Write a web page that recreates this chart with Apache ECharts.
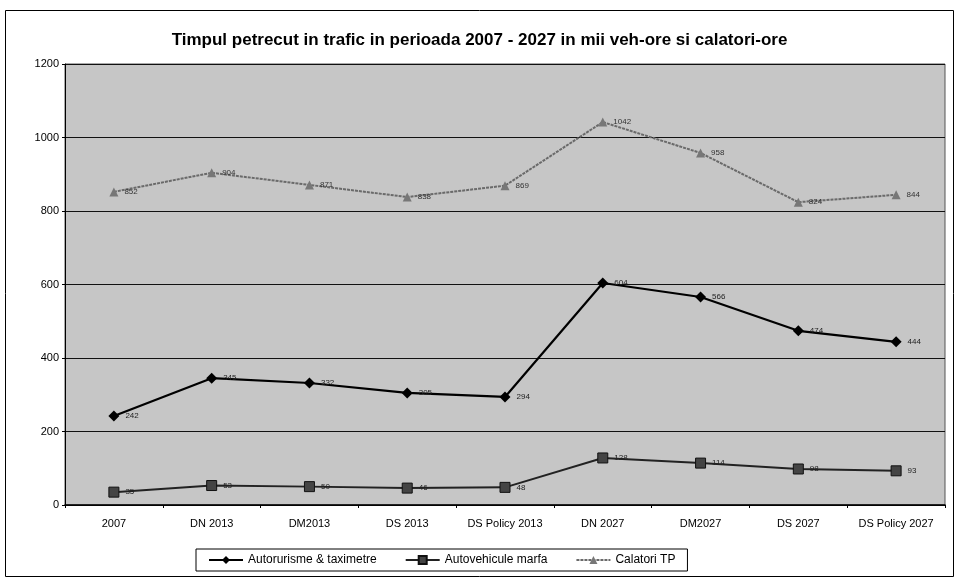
<!DOCTYPE html>
<html>
<head>
<meta charset="UTF-8">
<title>Timpul petrecut in trafic</title>
<script src="https://cdn.jsdelivr.net/npm/echarts@6/dist/echarts.min.js"></script>
<style type="text/css">
	* { margin: 0px; padding: 0px; }
	body { background: #fff; }
	#container { width: 959px; height: 577px; }
</style>
</head>
<body>
<div id="container"></div>
<script>
	// categorii (axa X)
	var categories = ['2007', 'DN 2013', 'DM2013', 'DS 2013', 'DS Policy 2013', 'DN 2027', 'DM2027', 'DS 2027', 'DS Policy 2027'];
	// valori
	var autoturisme = [242, 345, 332, 305, 294, 604, 566, 474, 444];
	var marfa = [35, 53, 50, 46, 48, 128, 114, 98, 93];
	var calatori = [852, 904, 871, 838, 869, 1042, 958, 824, 844];
	var seriesNames = ['Autorurisme & taximetre', 'Autovehicule marfa', 'Calatori TP'];
	var yTicks = { min: 0, max: 1200, interval: 200 };

	var font = '"Liberation Sans", Arial, sans-serif';

	function lbl(color) {
		return {
			show: true,
			position: 'right',
			distance: 6,
			fontSize: 8,
			fontFamily: font,
			color: color
		};
	}

	var dom = document.getElementById('container');
	var myChart = echarts.init(dom);
	var option = {
		animation: false,
		title: {
			text: 'Timpul petrecut in trafic in perioada 2007 - 2027 in mii veh-ore si calatori-ore',
			left: 'center',
			top: 27,
			textStyle: { fontFamily: font, fontSize: 17, fontWeight: 'bold', color: '#000' }
		},
		graphic: [{
			type: 'rect',
			shape: { x: 5.5, y: 10.5, width: 948, height: 566 },
			style: { fill: 'none', stroke: '#000', lineWidth: 1 },
			z: -1
		}],
		grid: {
			left: 65, right: 14, top: 64, bottom: 72,
			show: true,
			backgroundColor: '#c6c6c6',
			borderColor: '#555',
			borderWidth: 1
		},
		legend: {
			data: seriesNames,
			left: 196,
			top: 549,
			backgroundColor: '#fff',
			borderColor: '#000',
			borderWidth: 1,
			padding: [5, 12],
			itemGap: 28,
			itemWidth: 34,
			itemHeight: 10,
			textStyle: { fontFamily: font, fontSize: 12, color: '#000' }
		},
		xAxis: {
			type: 'category',
			data: categories,
			boundaryGap: true,
			axisLine: { lineStyle: { color: '#000', width: 1.5 } },
			axisTick: { show: true, lineStyle: { color: '#000' }, length: 3 },
			axisLabel: { fontFamily: font, fontSize: 11, color: '#000', margin: 13 }
		},
		yAxis: {
			type: 'value',
			min: yTicks.min,
			max: yTicks.max,
			interval: yTicks.interval,
			axisLine: { show: true, lineStyle: { color: '#000' } },
			axisTick: { show: true, length: 3, lineStyle: { color: '#000' } },
			axisLabel: {
				fontFamily: font, fontSize: 11, color: '#000', margin: 6,
				formatter: function (v) { return String(v); }
			},
			splitLine: { show: true, lineStyle: { color: '#111', width: 1 } }
		},
		series: [{
			name: seriesNames[0],
			type: 'line',
			data: autoturisme,
			symbol: 'diamond',
			symbolSize: 11,
			lineStyle: { color: '#000', width: 2.2 },
			itemStyle: { color: '#000' },
			label: lbl('#222')
		}, {
			name: seriesNames[1],
			type: 'line',
			data: marfa,
			symbol: 'rect',
			symbolSize: 10,
			lineStyle: { color: '#222', width: 2 },
			itemStyle: { color: '#444', borderColor: '#111', borderWidth: 1 },
			label: lbl('#222')
		}, {
			name: seriesNames[2],
			type: 'line',
			data: calatori,
			symbol: 'triangle',
			symbolSize: 9,
			lineStyle: { color: '#6a6a6a', width: 2, type: [3, 1] },
			itemStyle: { color: '#777' },
			label: lbl('#333')
		}]
	};
	myChart.setOption(option);
</script>
</body>
</html>
